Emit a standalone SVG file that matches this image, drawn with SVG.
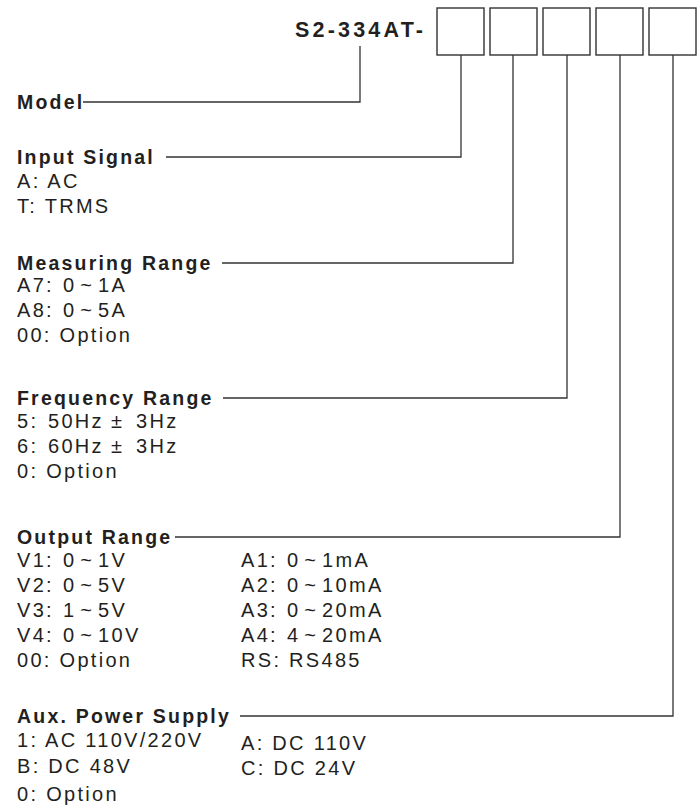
<svg xmlns="http://www.w3.org/2000/svg" width="700" height="807" viewBox="0 0 700 807">
<style>
.h{font-family:"Liberation Sans",Arial,sans-serif;font-weight:bold;font-size:19.5px;letter-spacing:2.2px;fill:#231f20}
.t{font-family:"Liberation Sans",Arial,sans-serif;font-size:20px;letter-spacing:2.3px;fill:#231f20}
.r{word-spacing:-4px}
.box{fill:#fff;stroke:#333;stroke-width:1.4}
.c{fill:none;stroke:#333;stroke-width:1.3}
</style>
<rect width="700" height="807" fill="#fff"/>
<g id="model-code">
<text x="295" y="37" class="h" style="font-size:21.5px;letter-spacing:3.2px">S2-334AT-</text>
<rect class="box" x="437" y="8" width="47" height="47"/>
<rect class="box" x="490" y="8" width="47" height="47"/>
<rect class="box" x="543" y="8" width="47" height="47"/>
<rect class="box" x="596" y="8" width="47" height="47"/>
<rect class="box" x="649" y="8" width="47" height="47"/>
</g>
<g id="connectors">
<path class="c" d="M83,102H360V46"/>
<path class="c" d="M166,157H461V55"/>
<path class="c" d="M222,263H513V55"/>
<path class="c" d="M223,398H567V55"/>
<path class="c" d="M175,537H620V55"/>
<path class="c" d="M240,716H673V55"/>
</g>
<g id="model"><text x="17" y="109" class="h">Model</text></g>
<g id="input-signal">
<text x="17" y="164" class="h">Input Signal</text>
<text x="17" y="188" class="t">A: AC</text>
<text x="17" y="213" class="t">T: TRMS</text>
</g>
<g id="measuring-range">
<text x="17" y="270" class="h">Measuring Range</text>
<text x="17" y="292" class="t">A7:<tspan x="63" class="r">0 ~ 1A</tspan></text>
<text x="17" y="317" class="t">A8:<tspan x="63" class="r">0 ~ 5A</tspan></text>
<text x="17" y="342" class="t">00: Option</text>
</g>
<g id="frequency-range">
<text x="17" y="405" class="h">Frequency Range</text>
<text x="17" y="428" class="t">5:<tspan x="48">50Hz</tspan><tspan x="111">±</tspan><tspan x="136">3Hz</tspan></text>
<text x="17" y="453" class="t">6:<tspan x="48">60Hz</tspan><tspan x="111">±</tspan><tspan x="136">3Hz</tspan></text>
<text x="17" y="478" class="t">0: Option</text>
</g>
<g id="output-range">
<text x="17" y="544" class="h">Output Range</text>
<text x="17" y="567" class="t">V1:<tspan x="63" class="r">0 ~ 1V</tspan></text>
<text x="17" y="592" class="t">V2:<tspan x="63" class="r">0 ~ 5V</tspan></text>
<text x="17" y="617" class="t">V3:<tspan x="63" class="r">1 ~ 5V</tspan></text>
<text x="17" y="642" class="t">V4:<tspan x="63" class="r">0 ~ 10V</tspan></text>
<text x="17" y="667" class="t">00: Option</text>
<text x="241" y="567" class="t">A1:<tspan x="287" class="r">0 ~ 1mA</tspan></text>
<text x="241" y="592" class="t">A2:<tspan x="287" class="r">0 ~ 10mA</tspan></text>
<text x="241" y="617" class="t">A3:<tspan x="287" class="r">0 ~ 20mA</tspan></text>
<text x="241" y="642" class="t">A4:<tspan x="287" class="r">4 ~ 20mA</tspan></text>
<text x="241" y="667" class="t">RS: RS485</text>
</g>
<g id="aux-power-supply">
<text x="17" y="723" class="h">Aux. Power Supply</text>
<text x="17" y="747" class="t">1: AC 110V/220V</text>
<text x="17" y="773" class="t">B: DC 48V</text>
<text x="17" y="801" class="t">0: Option</text>
<text x="241" y="750" class="t">A: DC 110V</text>
<text x="241" y="775" class="t">C: DC 24V</text>
</g>
</svg>
